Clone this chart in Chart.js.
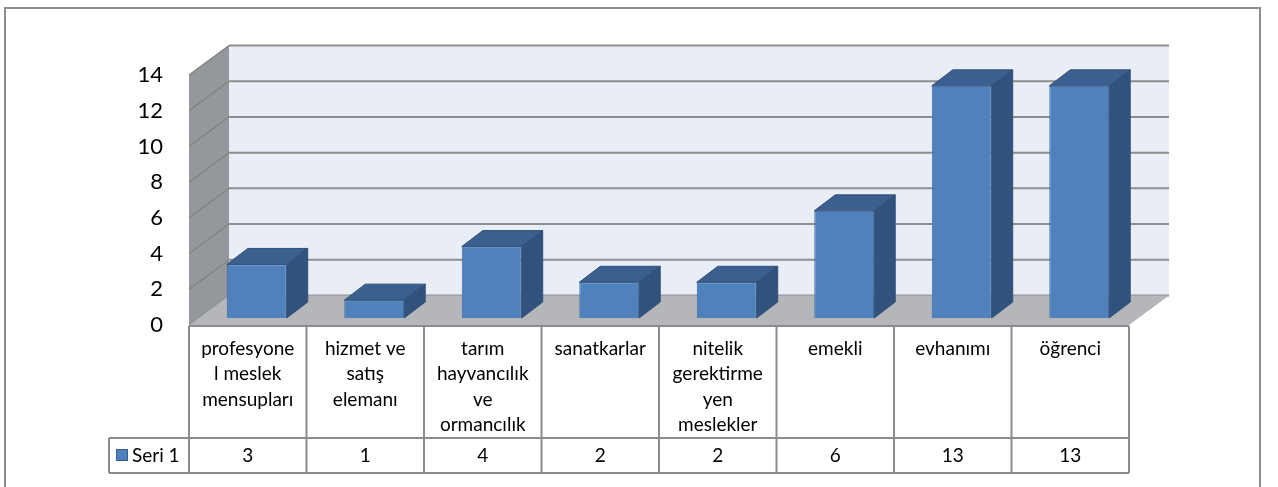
<!DOCTYPE html>
<html lang="tr">
<head>
<meta charset="utf-8">
<title>Meslek dağılımı</title>
<script src="https://cdn.jsdelivr.net/npm/chart.js@4/dist/chart.umd.min.js"></script>
<style>
  html, body { margin: 0; padding: 0; background: #ffffff; }
  #wrap { width: 1278px; height: 487px; }
</style>
</head>
<body>
<div id="wrap"><canvas id="c" width="1278" height="487"></canvas></div>
<script>
// Category labels, already wrapped into the lines shown in the table cells
const categories = [
  ["profesyone", "l meslek", "mensupları"],
  ["hizmet ve", "satış", "elemanı"],
  ["tarım", "hayvancılık", "ve", "ormancılık"],
  ["sanatkarlar"],
  ["nitelik", "gerektirme", "yen", "meslekler"],
  ["emekli"],
  ["evhanımı"],
  ["öğrenci"]
];
const seriesName = "Seri 1";
const seriesValues = [3, 1, 4, 2, 2, 6, 13, 13];
const yTicks = [0, 2, 4, 6, 8, 10, 12, 14];

// 3D look: offset of the back wall and of the bar depth
const WALL_DX = 40, WALL_DY = -29.5;   // front plane -> back wall
const BAR_DX = 9, BAR_DY = -7;         // front plane -> bar front face
const DEPTH_DX = 21, DEPTH_DY = -16;   // bar front face -> bar back face

const COLORS = {
  wall: '#e9edf6',
  grid: '#8e8e8e',
  side: '#94979b',
  sideLine: '#7f8184',
  floor: '#b4b6b9',
  front: '#4f81bd',
  frontEdge: '#3e6ca3',
  top: '#3b6090',
  right: '#31527c',
  faceEdge: '#30507a',
  table: '#8c8c8c',
  frame: '#8d8d8d',
  text: '#000000'
};

const FONT = 'Lato, "Open Sans", "DejaVu Sans", sans-serif';

const scene3d = {
  id: 'scene3d',
  beforeDraw(chart) {
    const ctx = chart.ctx;
    ctx.save();
    ctx.fillStyle = '#ffffff';
    ctx.fillRect(0, 0, chart.width, chart.height);
    ctx.strokeStyle = COLORS.frame;
    ctx.lineWidth = 2;
    ctx.strokeRect(5, 8, 1255, 500);
    ctx.restore();
  },
  beforeDatasetsDraw(chart) {
    const ctx = chart.ctx;
    const x = chart.scales.x, y = chart.scales.y;
    const L = x.left, R = x.right;
    const y0 = y.getPixelForValue(yTicks[0]);
    const yMax = y.getPixelForValue(yTicks[yTicks.length - 1]);
    ctx.save();

    // back wall
    ctx.fillStyle = COLORS.wall;
    ctx.fillRect(L + WALL_DX, yMax + WALL_DY, R - L, y0 - yMax);

    // side wall
    ctx.fillStyle = COLORS.side;
    ctx.beginPath();
    ctx.moveTo(L, yMax);
    ctx.lineTo(L + WALL_DX, yMax + WALL_DY);
    ctx.lineTo(L + WALL_DX, y0 + WALL_DY);
    ctx.lineTo(L, y0);
    ctx.closePath();
    ctx.fill();

    // grid lines on back and side walls
    yTicks.forEach(v => {
      const py = y.getPixelForValue(v);
      ctx.lineWidth = 2;
      ctx.strokeStyle = COLORS.grid;
      ctx.beginPath();
      ctx.moveTo(L + WALL_DX, py + WALL_DY);
      ctx.lineTo(R + WALL_DX, py + WALL_DY);
      ctx.stroke();
      ctx.lineWidth = 1.2;
      ctx.strokeStyle = COLORS.sideLine;
      ctx.beginPath();
      ctx.moveTo(L, py);
      ctx.lineTo(L + WALL_DX, py + WALL_DY);
      ctx.stroke();
    });

    // floor
    ctx.fillStyle = COLORS.floor;
    ctx.beginPath();
    ctx.moveTo(L, y0);
    ctx.lineTo(R, y0);
    ctx.lineTo(R + WALL_DX, y0 + WALL_DY);
    ctx.lineTo(L + WALL_DX, y0 + WALL_DY);
    ctx.closePath();
    ctx.fill();
    ctx.restore();

    // bars are drawn by the library, shifted into the floor depth
    ctx.save();
    ctx.translate(BAR_DX, BAR_DY);
  },
  afterDatasetsDraw(chart) {
    const ctx = chart.ctx;
    ctx.restore();
    ctx.save();
    ctx.translate(BAR_DX, BAR_DY);
    ctx.lineWidth = 1;
    ctx.strokeStyle = COLORS.faceEdge;
    chart.getDatasetMeta(0).data.forEach(bar => {
      const p = bar.getProps(['x', 'y', 'base', 'width'], true);
      const l = p.x - p.width / 2, r = p.x + p.width / 2;
      const t = p.y, b = p.base;
      // top face
      ctx.fillStyle = COLORS.top;
      ctx.beginPath();
      ctx.moveTo(l, t);
      ctx.lineTo(r, t);
      ctx.lineTo(r + DEPTH_DX, t + DEPTH_DY);
      ctx.lineTo(l + DEPTH_DX, t + DEPTH_DY);
      ctx.closePath();
      ctx.fill();
      ctx.stroke();
      // right face
      ctx.fillStyle = COLORS.right;
      ctx.beginPath();
      ctx.moveTo(r, t);
      ctx.lineTo(r + DEPTH_DX, t + DEPTH_DY);
      ctx.lineTo(r + DEPTH_DX, b + DEPTH_DY);
      ctx.lineTo(r, b);
      ctx.closePath();
      ctx.fill();
      ctx.stroke();
    });
    ctx.restore();
  },
  afterDraw(chart) {
    // data table under the plot
    const ctx = chart.ctx;
    const x = chart.scales.x;
    const L = x.left, R = x.right;
    const top = x.top + 1, mid = 438, bottom = 473, legL = 109;
    const step = (R - L) / categories.length;
    ctx.save();
    ctx.strokeStyle = COLORS.table;
    ctx.lineWidth = 2;
    ctx.beginPath();
    ctx.moveTo(L, top); ctx.lineTo(R, top);
    ctx.moveTo(legL, mid); ctx.lineTo(R, mid);
    ctx.moveTo(legL, bottom); ctx.lineTo(R, bottom);
    ctx.moveTo(legL, mid); ctx.lineTo(legL, bottom);
    for (let i = 0; i <= categories.length; i++) {
      const px = L + i * step;
      ctx.moveTo(px, top); ctx.lineTo(px, bottom);
    }
    ctx.stroke();

    ctx.fillStyle = COLORS.text;
    ctx.font = '19px ' + FONT;
    ctx.textAlign = 'center';
    ctx.textBaseline = 'middle';
    const rowY = (mid + bottom) / 2;
    seriesValues.forEach((v, i) => {
      ctx.fillText(String(v), x.getPixelForValue(i), rowY);
    });

    // legend key
    ctx.fillStyle = COLORS.front;
    ctx.fillRect(116, 449, 12, 12);
    ctx.strokeStyle = '#385d8a';
    ctx.lineWidth = 1;
    ctx.strokeRect(116.5, 449.5, 11, 11);
    ctx.fillStyle = COLORS.text;
    ctx.textAlign = 'left';
    ctx.fillText(seriesName, 132, rowY);
    ctx.restore();
  }
};

new Chart(document.getElementById('c'), {
  type: 'bar',
  data: {
    labels: categories,
    datasets: [{
      label: seriesName,
      data: seriesValues,
      backgroundColor: COLORS.front,
      borderColor: COLORS.frontEdge,
      borderWidth: 1,
      barPercentage: 0.51,
      categoryPercentage: 1.0
    }]
  },
  options: {
    responsive: false,
    animation: false,
    events: [],
    layout: { padding: { top: 75, left: 0, right: 149, bottom: 0 } },
    plugins: {
      legend: { display: false },
      tooltip: { enabled: false }
    },
    scales: {
      x: {
        grid: { display: false, drawTicks: false },
        border: { display: false },
        ticks: {
          autoSkip: false,
          maxRotation: 0,
          minRotation: 0,
          padding: 11,
          color: COLORS.text,
          font: { family: FONT, size: 19, lineHeight: 1.34 }
        },
        afterFit(scale) { scale.height = 162; }
      },
      y: {
        min: yTicks[0],
        max: yTicks[yTicks.length - 1],
        grid: { display: false, drawTicks: false },
        border: { display: false },
        ticks: {
          stepSize: 2,
          padding: 26,
          color: COLORS.text,
          font: { family: FONT, size: 22 }
        },
        afterFit(scale) { scale.width = 189; }
      }
    }
  },
  plugins: [scene3d]
});
</script>
</body>
</html>
